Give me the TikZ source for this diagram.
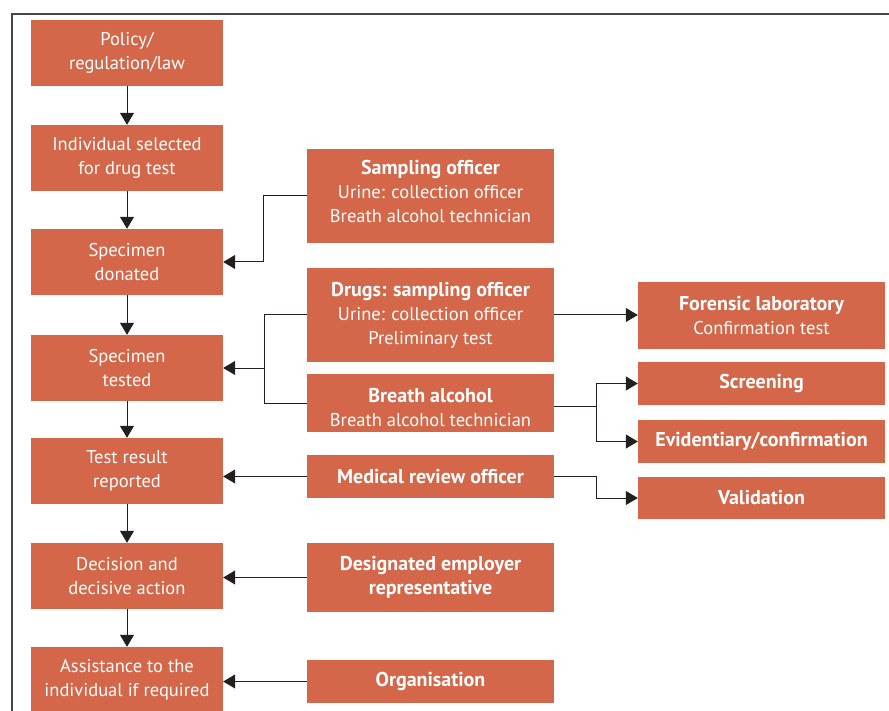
\documentclass[tikz,border=0pt]{standalone}
\usepackage{fontspec}
\setmainfont{PT Sans}
\usetikzlibrary{arrows.meta,calc}
\definecolor{boxfill}{RGB}{212,103,74}
\definecolor{lineclr}{RGB}{35,31,32}
\definecolor{frameclr}{RGB}{70,70,70}
\newcommand{\hd}[1]{{\fontsize{20}{24}\selectfont\bfseries #1}}
\tikzset{
  txt/.style={text=white, align=center, inner sep=0pt,
    font=\fontsize{18.5}{24}\selectfont},
  box/.style={txt, fill=boxfill},
  lbox/.style={box, minimum width=192pt, minimum height=66pt},
  mbox/.style={box, minimum width=247pt},
  conn/.style={draw=lineclr, line width=1pt},
  arr/.style={conn, -{Triangle[length=12pt,width=14pt]}},
}
\begin{document}
\begin{tikzpicture}[x=1pt,y=-1pt]
\useasboundingbox (0,0) rectangle (889,711);
\draw[frameclr, line width=1.3pt] (12,711) -- (12,14) -- (889,14);
% left column
\node[lbox] (policy) at (127,53) {Policy/\\regulation/law};
\node[lbox] (select) at (127,158) {Individual selected\\for drug test};
\node[lbox] (donated) at (127,262) {Specimen\\donated};
\node[lbox] (tested) at (127,368) {Specimen\\tested};
\node[lbox] (result) at (127,471) {Test result\\reported};
\node[lbox] (decision) at (127,576) {Decision and\\decisive action};
\node[lbox] (assist) at (127,680) {Assistance to the\\individual if required};
% middle column
\node[mbox, minimum height=94pt] (samp) at (430.5,196) {};
\node[txt] (samptxt) at (430.5,191) {\hd{Sampling officer}\\Urine: collection officer\\Breath alcohol technician};
\node[mbox, minimum height=94pt] (drugs) at (430.5,315) {\hd{Drugs: sampling officer}\\Urine: collection officer\\Preliminary test};
\node[mbox, minimum height=58pt] (breath) at (430.5,403) {};
\node[txt] (breathtxt) at (430.5,407.5) {\hd{Breath alcohol}\\Breath alcohol technician};
\node[mbox, minimum height=43pt] (mro) at (430.5,476.5) {\hd{Medical review officer}};
\node[mbox, minimum height=69pt] (desig) at (430.5,577.5) {\hd{Designated employer}\\\hd{representative}};
\node[mbox, minimum height=43pt] (org) at (430.5,681.5) {\hd{Organisation}};
% right column
\node[mbox, minimum height=67pt] (forensic) at (761.5,315.5) {\hd{Forensic laboratory}\\Confirmation test};
\node[mbox, minimum height=43pt] (screen) at (761.5,383.5) {\hd{Screening}};
\node[mbox, minimum height=43pt] (evid) at (761.5,441.5) {\hd{Evidentiary/confirmation}};
\node[mbox, minimum height=42pt] (valid) at (761.5,498) {\hd{Validation}};
% vertical flow
\draw[arr] (policy) -- (select);
\draw[arr] (select) -- (donated);
\draw[arr] (donated) -- (tested);
\draw[arr] (tested) -- (result);
\draw[arr] (result) -- (decision);
\draw[arr] (decision) -- (assist);
% side connectors
\draw[arr] (samp.west) -- ++(-43,0) |- (donated.east);
\coordinate (j1) at (264,368);
\draw[conn] (drugs.west) -| (j1);
\draw[conn] (breath.west) -| (j1);
\draw[arr] (j1) -- (tested.east);
\draw[arr] (drugs.east) -- (drugs.east -| forensic.west);
\coordinate (j2) at (596,406);
\draw[conn] (breath.east |- j2) -- (j2);
\draw[arr] (j2) |- (screen.west);
\draw[arr] (j2) |- (evid.west);
\draw[arr] (mro.west) -- (mro.west -| result.east);
\draw[arr] (mro.east) -- ++(42,0) |- (valid.west);
\draw[arr] (desig.west) -- (desig.west -| decision.east);
\draw[arr] (org.west) -- (org.west -| assist.east);
\end{tikzpicture}
\end{document}
